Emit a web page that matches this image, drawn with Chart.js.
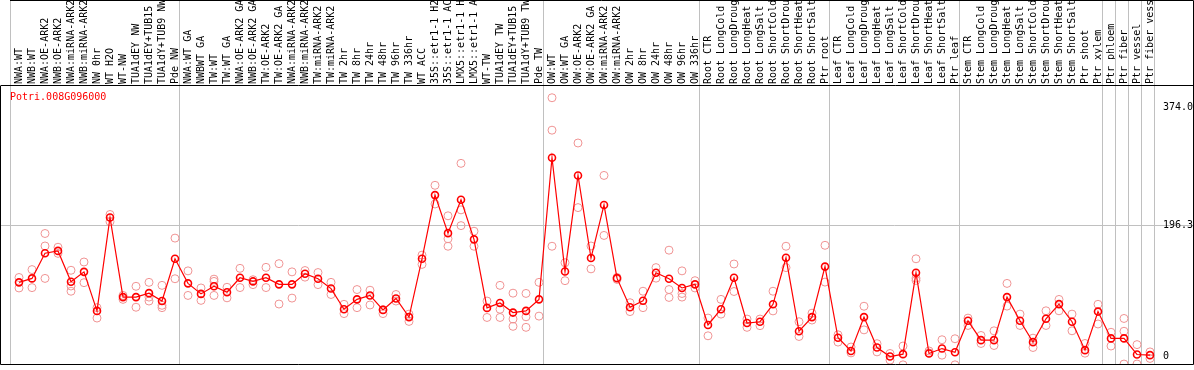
<!DOCTYPE html>
<html>
<head>
<meta charset="utf-8">
<script src="https://cdn.jsdelivr.net/npm/chart.js@4/dist/chart.umd.min.js"></script>
<style>
    body { margin: 0; background: #fff; }
    #wrap { width: 1194px; height: 370px; position: relative; }
</style>
</head>
<body>
<div id="wrap"><canvas id="exprChart"></canvas></div>
<script>
const geneName = 'Potri.008G096000';

const sampleLabels = [
    'NWA:WT', 'NWB:WT', 'NWA:OE-ARK2', 'NWB:OE-ARK2', 'NWA:miRNA-ARK2', 'NWB:miRNA-ARK2',
    'NW 0hr', 'WT H2O', 'WT-NW', 'TUA1dEY NW', 'TUA1dEY+TUB15', 'TUA1dY+TUB9 NW', 'Pde NW',
    'NWA:WT GA', 'NWBWT GA', 'TW:WT', 'TW:WT GA', 'NWA:OE-ARK2 GA', 'NWB:OE-ARK2 GA',
    'TW:OE-ARK2', 'TW:OE-ARK2 GA', 'NWA:miRNA-ARK2', 'NWB:miRNA-ARK2', 'TW:miRNA-ARK2',
    'TW:miRNA-ARK2', 'TW 2hr', 'TW 8hr', 'TW 24hr', 'TW 48hr', 'TW 96hr', 'TW 336hr',
    'WT ACC', '35S::etr1-1 H2O', '35S::etr1-1 ACC', 'LMX5::etr1-1 H2O', 'LMX5::etr1-1 ACC',
    'WT-TW', 'TUA1dEY TW', 'TUA1dEY+TUB15', 'TUA1dY+TUB9 TW', 'Pde TW',
    'OW:WT', 'OW:WT GA', 'OW:OE-ARK2', 'OW:OE-ARK2 GA', 'OW:miRNA-ARK2', 'OW:miRNA-ARK2',
    'OW 2hr', 'OW 8hr', 'OW 24hr', 'OW 48hr', 'OW 96hr', 'OW 336hr',
    'Root CTR', 'Root LongCold', 'Root LongDrought', 'Root LongHeat', 'Root LongSalt',
    'Root ShortCold', 'Root ShortDrought', 'Root ShortHeat', 'Root ShortSalt', 'Ptr root',
    'Leaf CTR', 'Leaf LongCold', 'Leaf LongDrought', 'Leaf LongHeat', 'Leaf LongSalt',
    'Leaf ShortCold', 'Leaf ShortDrought', 'Leaf ShortHeat', 'Leaf ShortSalt', 'Ptr leaf',
    'Stem CTR', 'Stem LongCold', 'Stem LongDrought', 'Stem LongHeat', 'Stem LongSalt',
    'Stem ShortCold', 'Stem ShortDrought', 'Stem ShortHeat', 'Stem ShortSalt', 'Ptr shoot',
    'Ptr xylem', 'Ptr phloem', 'Ptr fiber', 'Ptr vessel', 'Ptr fiber vessel'
];

// mean expression (red line)
const meanValues = [
    111.6, 117.5, 155.3, 158.7, 112.6, 127.3, 68.8, 208.8, 89.5, 89.5, 95.4, 83.6, 146.9,
    110.1, 94.3, 105.7, 96.8, 118.5, 113.0, 118.5, 108.6, 108.6, 124.4, 117.0, 102.3, 71.3,
    86.1, 92.0, 70.3, 87.5, 59.5, 146.9, 242.3, 185.3, 235.4, 176.0, 73.3, 80.6, 66.3, 68.8,
    86.1, 298.3, 127.8, 271.8, 148.0, 227.6, 117.9, 74.3, 84.0, 125.9, 117.0, 103.2, 108.6,
    47.8, 71.3, 118.5, 50.7, 52.6, 78.7, 148.4, 38.3, 59.5, 135.2,
    28.6, 8.8, 59.5, 13.9, 0.5, 4.0, 125.9, 5.0, 12.4, 6.9,
    54, 25, 25, 89.5, 54, 22, 57, 79, 52.6, 10,
    67.8, 27.6, 27.6, 3.5, 2.5
];

// replicates (pale circles)
const rep1 = [
    118.9, 130.7, 184.8, 164.2, 129.7, 142.1, 73.7, 213.3, 86.1, 105.7, 111.6, 107.1, 177.9,
    128.8, 103.2, 116.4, 104.2, 132.6, 115.5, 134.1, 139.6, 127.3, 129.3, 126.3, 111.6, 78.7,
    100.8, 99.8, 70.7, 93.4, 64.0, 152.4, 257.0, 211.3, 289.9, 188.2, 83.6, 107.1, 95.4, 95.0,
    111.6, 388.2, 141.0, 320.4, 166.1, 271.8, 118.9, 81.1, 98.3, 133.7, 159.8, 128.8, 114.1,
    58.1, 86.1, 139.1, 56.6, 56.6, 98.3, 165.7, 52.6, 65.4, 167.1,
    33.0, 14.7, 75.8, 19.7, 5.0, 16.2, 146.9, 8.8, 25.6, 27.1,
    58, 32, 39, 110, 64, 28, 69, 86, 64, 20,
    78.7, 36.8, 57.5, 18.3, 7.4
];
const rep2 = [
    103.2, 103.7, 166.1, 155.0, 106.1, 111.1, 58.1, 202.5, 92.0, 74.3, 89.5, 77.2, 117.0,
    92.0, 84.6, 113.0, 88.4, 103.8, 108.2, 103.8, 79.1, 88.0, 119.4, 108.2, 93.4, 64.8,
    73.7, 77.7, 64.8, 83.6, 53.1, 138.5, 229.0, 176.9, 220.2, 165.7, 59.0, 71.3, 56.6, 60.0,
    61.0, 339.6, 114.1, 223.6, 131.8, 181.9, 116.0, 67.8, 73.7, 117.9, 100.8, 94.9, 103.2,
    31.5, 64.0, 97.9, 44.2, 46.7, 68.8, 133.7, 30.5, 55.1, 112.0,
    22.1, 5.9, 40.4, 7.4, -4.9, -12, 117.9, 5.9, 2.5, -12,
    47, 20, 17, 76, 47, 14, 47, 69, 39, 5.5,
    49.2, 16.2, 38.3, -10.8, -2.4
];
const rep3 = [
    null, null, 117.5, null, 98.3, null, null, null, null, null, 83.6, 73.7, null,
    null, null, 92.0, null, null, null, null, null, null, null, null, null, null,
    null, null, null, null, null, null, null, 165.7, 196.6, null, null, 59.0, 45.7, 44.2,
    null, 165.7, null, null, null, null, null, null, null, null, 89.0, 89.5, null,
    null, null, null, null, null, null, null, null, null, null,
    null, null, null, null, null, null, 114.5, null, null, null,
    null, null, null, null, null, null, null, null, null, null,
    null, null, -10.8, null, null
];

// first index of each sample group (vertical separators)
const groupStarts = [0, 13, 41, 53, 63, 73, 84, 85, 86, 87, 88];

const yTicks = [0, 196.3, 374.0];
const yTickLabels = ['0', '196.3', '374.0'];

function toPoints(arr) {
    return arr.map((v, i) => (v === null ? null : { x: i, y: v })).filter(p => p);
}

const frame = {
    id: 'frame',
    beforeDatasetsDraw(chart) {
        const { ctx, chartArea, scales } = chart;
        ctx.save();
        ctx.strokeStyle = '#c0c0c0';
        ctx.lineWidth = 1;
        groupStarts.forEach(k => {
            let x = Math.round(scales.x.getPixelForValue(k - 0.68)) + 0.5;
            ctx.beginPath();
            ctx.moveTo(x, 0);
            ctx.lineTo(x, chartArea.bottom);
            ctx.stroke();
        });
        ctx.restore();
    },
    afterDraw(chart) {
        const { ctx, chartArea } = chart;
        ctx.save();
        ctx.strokeStyle = '#000';
        ctx.lineWidth = 1;
        ctx.beginPath();
        ctx.moveTo(0.5, chartArea.top - 0.5);
        ctx.lineTo(chartArea.right + 0.5, chartArea.top - 0.5);
        ctx.moveTo(0.5, chartArea.top);
        ctx.lineTo(0.5, chartArea.bottom + 0.5);
        ctx.lineTo(chartArea.right + 0.5, chartArea.bottom + 0.5);
        ctx.lineTo(chartArea.right + 0.5, 0.5);
        ctx.lineTo(10, 0.5);
        ctx.stroke();
        ctx.fillStyle = '#ff0000';
        ctx.font = '10px "DejaVu Sans Mono"';
        ctx.textBaseline = 'middle';
        ctx.fillText(geneName, 10, 97);
        ctx.restore();
    }
};

new Chart(document.getElementById('exprChart').getContext('2d'), {
    type: 'scatter',
    data: {
        datasets: [{
            label: 'mean',
            type: 'line',
            data: toPoints(meanValues),
            borderColor: '#ff0000',
            borderWidth: 1.2,
            pointRadius: 3.5,
            pointBorderWidth: 1.6,
            pointBorderColor: '#ff0000',
            pointBackgroundColor: 'rgba(255,255,255,0)',
            tension: 0,
            order: 0
        }, {
            label: 'rep1',
            data: toPoints(rep1),
            pointRadius: 4,
            pointBorderWidth: 1,
            pointBorderColor: '#f09494',
            pointBackgroundColor: 'rgba(255,255,255,0)',
            order: 1
        }, {
            label: 'rep2',
            data: toPoints(rep2),
            pointRadius: 4,
            pointBorderWidth: 1,
            pointBorderColor: '#f09494',
            pointBackgroundColor: 'rgba(255,255,255,0)',
            order: 1
        }, {
            label: 'rep3',
            data: toPoints(rep3),
            pointRadius: 4,
            pointBorderWidth: 1,
            pointBorderColor: '#f09494',
            pointBackgroundColor: 'rgba(255,255,255,0)',
            order: 1
        }]
    },
    options: {
        responsive: true,
        maintainAspectRatio: false,
        animation: false,
        layout: { autoPadding: false, padding: { left: 0, right: 1, top: 0, bottom: 1 } },
        plugins: {
            legend: { display: false },
            tooltip: { enabled: false }
        },
        scales: {
            x: {
                type: 'linear',
                position: 'top',
                min: -19 / 13,
                max: -19 / 13 + 1193 / 13,
                afterBuildTicks: scale => {
                    scale.ticks = sampleLabels.map((_, i) => ({ value: i }));
                },
                afterFit: scale => {
                    scale.height = 86;
                    scale.paddingLeft = 0;
                    scale.paddingRight = 0;
                },
                ticks: {
                    autoSkip: false,
                    minRotation: 90,
                    maxRotation: 90,
                    padding: 2,
                    labelOffset: 12,
                    color: '#000',
                    font: { family: 'DejaVu Sans Mono', size: 10 },
                    callback: v => sampleLabels[v]
                },
                grid: { display: false, drawTicks: false },
                border: { display: false }
            },
            y: {
                position: 'right',
                min: -10.74,
                max: 405.8,
                afterBuildTicks: scale => {
                    scale.ticks = yTicks.map(v => ({ value: v }));
                },
                afterFit: scale => { scale.width = 0; },
                ticks: {
                    mirror: true,
                    crossAlign: 'far',
                    padding: 0,
                    color: '#000',
                    font: { family: 'DejaVu Sans Mono', size: 10 },
                    callback: v => yTickLabels[yTicks.indexOf(v)]
                },
                grid: {
                    drawTicks: false,
                    color: ctx => (ctx.tick && ctx.tick.value === 196.3 ? '#c0c0c0' : 'rgba(0,0,0,0)')
                },
                border: { display: false }
            }
        }
    },
    plugins: [frame]
});
</script>
</body>
</html>
